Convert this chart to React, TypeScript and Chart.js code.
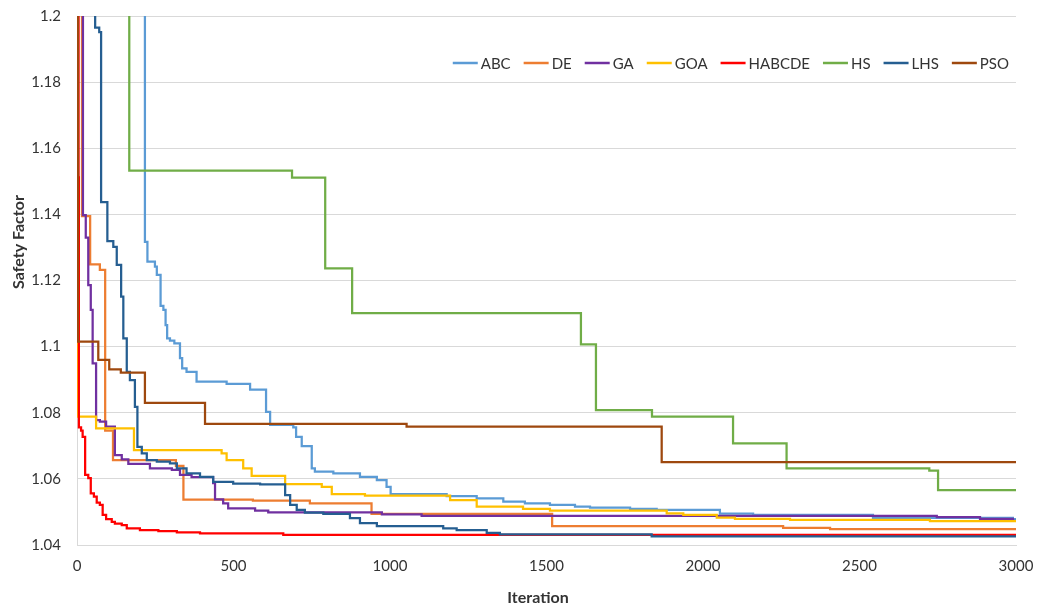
import React, { useEffect, useRef } from "react";
import { Chart, registerables } from "chart.js";

Chart.register(...registerables);

const seriesNames = ["ABC", "DE", "GA", "GOA", "HABCDE", "HS", "LHS", "PSO"];
const seriesColors = ["#5B9BD5", "#ED7D31", "#7030A0", "#FFC000", "#FF0000", "#70AD47", "#255E91", "#9E480E"];

const xTickValues = [0, 500, 1000, 1500, 2000, 2500, 3000];
const yTickValues = [1.04, 1.06, 1.08, 1.1, 1.12, 1.14, 1.16, 1.18, 1.2];

const abcIter = [0, 217, 225, 249, 255, 267, 276, 283, 288, 297, 311, 329, 336, 350, 382, 478, 553, 604, 617, 691, 700, 718, 750, 760, 819, 904, 958, 989, 1002, 1181, 1277, 1362, 1431, 1511, 1591, 1639, 1767, 1852, 2054, 2160, 2543, 2990, 3000];
const abcValue = [1.3, 1.1317, 1.1257, 1.1242, 1.1217, 1.1123, 1.1111, 1.1065, 1.1025, 1.1018, 1.101, 1.0965, 1.0934, 1.0924, 1.0894, 1.0887, 1.087, 1.0803, 1.0763, 1.0756, 1.0727, 1.0699, 1.0632, 1.0622, 1.0617, 1.0606, 1.0596, 1.0576, 1.0554, 1.0548, 1.0541, 1.0531, 1.0526, 1.0521, 1.0516, 1.0513, 1.0509, 1.0506, 1.0495, 1.0491, 1.0482, 1.0478, 1.0478];

const deIter = [0, 16, 42, 73, 90, 115, 316, 340, 562, 744, 941, 1518, 2256, 2406, 3000];
const deValue = [1.25, 1.1395, 1.1249, 1.1232, 1.0746, 1.0657, 1.0639, 1.0537, 1.0534, 1.0526, 1.0494, 1.0457, 1.0452, 1.0448, 1.0448];

const gaIter = [0, 19, 28, 36, 44, 50, 61, 73, 93, 121, 143, 164, 233, 303, 329, 366, 435, 441, 467, 483, 569, 611, 974, 1101, 2747, 2885, 2990, 3000];
const gaValue = [1.25, 1.1398, 1.133, 1.1186, 1.1111, 1.0949, 1.0778, 1.0773, 1.0758, 1.0672, 1.0659, 1.0645, 1.0632, 1.0627, 1.0612, 1.0605, 1.0587, 1.0538, 1.0526, 1.0511, 1.0504, 1.0499, 1.0493, 1.0488, 1.0484, 1.0479, 1.0473, 1.0473];

const goaIter = [0, 2, 61, 182, 462, 478, 531, 558, 665, 782, 814, 920, 1192, 1277, 1425, 1511, 1884, 1937, 2044, 2102, 2278, 2725, 3000];
const goaValue = [1.12, 1.0788, 1.0753, 1.0687, 1.0677, 1.0657, 1.0632, 1.0609, 1.0584, 1.0576, 1.0554, 1.0549, 1.0536, 1.0516, 1.0509, 1.0504, 1.0496, 1.0491, 1.0483, 1.0479, 1.0476, 1.0472, 1.0472];

const habcdeIter = [0, 5, 6, 13, 18, 26, 36, 44, 54, 63, 73, 82, 93, 111, 121, 143, 159, 201, 260, 319, 393, 659, 3000];
const habcdeValue = [1.25, 1.1512, 1.0756, 1.0746, 1.0727, 1.0612, 1.0602, 1.0556, 1.0546, 1.0528, 1.0521, 1.0491, 1.0478, 1.047, 1.0465, 1.046, 1.045, 1.0445, 1.0442, 1.0438, 1.0435, 1.0431, 1.0431];

const hsIter = [0, 167, 687, 793, 879, 1610, 1658, 1837, 2096, 2267, 2723, 2751, 3000];
const hsValue = [1.25, 1.1532, 1.1511, 1.1237, 1.1101, 1.1007, 1.0808, 1.0788, 1.0707, 1.0632, 1.0625, 1.0566, 1.0566];

const lhsIter = [0, 58, 71, 77, 97, 116, 127, 141, 148, 159, 169, 185, 193, 207, 223, 255, 297, 319, 350, 393, 435, 499, 585, 665, 681, 702, 728, 787, 872, 904, 958, 1170, 1213, 1309, 1351, 1836, 3000];
const lhsValue = [1.3, 1.1965, 1.1951, 1.1437, 1.1319, 1.1302, 1.1247, 1.1151, 1.1025, 1.0924, 1.0899, 1.0818, 1.0697, 1.0677, 1.0657, 1.0652, 1.0647, 1.0632, 1.0617, 1.0606, 1.0591, 1.0586, 1.0583, 1.0551, 1.0521, 1.0506, 1.0498, 1.0494, 1.0481, 1.0466, 1.0457, 1.045, 1.0445, 1.0437, 1.0432, 1.0426, 1.0426];

const psoIter = [0, 3, 68, 103, 140, 217, 409, 1053, 1868, 3000];
const psoValue = [1.25, 1.1015, 1.096, 1.0931, 1.0921, 1.083, 1.0766, 1.0758, 1.0651, 1.0651];

const seriesIters = [abcIter, deIter, gaIter, goaIter, habcdeIter, hsIter, lhsIter, psoIter];
const seriesValues = [abcValue, deValue, gaValue, goaValue, habcdeValue, hsValue, lhsValue, psoValue];

const TEXT_COLOR = "#333333";
const FONT_FAMILY = "Lato, 'Open Sans', sans-serif";

const overlayPlugin = {
  id: "overlay",
  afterDraw(chart: any) {
    const ctx = chart.ctx as CanvasRenderingContext2D;
    const area = chart.chartArea;
    ctx.save();
    // legend inside plot area
    ctx.font = `15px ${FONT_FAMILY}`;
    ctx.textBaseline = "middle";
    ctx.textAlign = "left";
    const lineLen = 25;
    const gapText = 3;
    const gapItem = 13;
    const widths = seriesNames.map((n) => ctx.measureText(n).width);
    const total = widths.reduce((s, w) => s + lineLen + gapText + w, 0) + gapItem * (seriesNames.length - 1);
    let x = area.right - 7 - total;
    const y = 63;
    seriesNames.forEach((name, i) => {
      ctx.strokeStyle = seriesColors[i];
      ctx.lineWidth = 2.5;
      ctx.beginPath();
      ctx.moveTo(x, y);
      ctx.lineTo(x + lineLen, y);
      ctx.stroke();
      ctx.fillStyle = TEXT_COLOR;
      ctx.fillText(name, x + lineLen + gapText, y + 1);
      x += lineLen + gapText + widths[i] + gapItem;
    });
    // axis titles
    ctx.font = `bold 16px ${FONT_FAMILY}`;
    ctx.fillStyle = TEXT_COLOR;
    ctx.textAlign = "center";
    ctx.textBaseline = "middle";
    ctx.fillText("Iteration", 538, 598);
    ctx.translate(19, 242);
    ctx.rotate(-Math.PI / 2);
    ctx.fillText("Safety Factor", 0, 0);
    ctx.restore();
  },
};

export default function App() {
  const canvasRef = useRef<HTMLCanvasElement | null>(null);

  useEffect(() => {
    if (!canvasRef.current) return;
    const datasets = seriesNames.map((name, i) => ({
      label: name,
      data: seriesIters[i].map((x, j) => ({ x, y: seriesValues[i][j] })),
      borderColor: seriesColors[i],
      backgroundColor: seriesColors[i],
      borderWidth: 2.25,
      pointRadius: 0,
      stepped: "before" as const,
      fill: false,
      order: seriesNames.length - i,
    }));
    const chart = new Chart(canvasRef.current, {
      type: "line",
      data: { datasets },
      plugins: [overlayPlugin],
      options: {
        animation: false,
        responsive: true,
        maintainAspectRatio: false,
        layout: { padding: { top: 16, right: 21, left: 0, bottom: 0 } },
        plugins: { legend: { display: false }, tooltip: { enabled: false } },
        scales: {
          x: {
            type: "linear",
            min: 0,
            max: 3000,
            afterBuildTicks: (scale: any) => {
              scale.ticks = xTickValues.map((v) => ({ value: v }));
            },
            afterFit: (scale: any) => {
              scale.height = 67;
              scale.paddingLeft = 0;
              scale.paddingRight = 0;
            },
            grid: { display: false, drawTicks: false },
            border: { display: true, color: "#D9D9D9", width: 1 },
            ticks: {
              padding: 12,
              color: TEXT_COLOR,
              font: { family: FONT_FAMILY, size: 15 },
              maxRotation: 0,
              callback: (v: any) => String(v),
            },
          },
          y: {
            type: "linear",
            min: 1.04,
            max: 1.2,
            afterBuildTicks: (scale: any) => {
              scale.ticks = yTickValues.map((v) => ({ value: v }));
            },
            afterFit: (scale: any) => {
              scale.width = 77;
              scale.paddingTop = 0;
              scale.paddingBottom = 0;
            },
            grid: { color: "#D9D9D9", lineWidth: 1, drawTicks: false },
            border: { display: true, color: "#D9D9D9", width: 1 },
            ticks: {
              padding: 16,
              color: TEXT_COLOR,
              font: { family: FONT_FAMILY, size: 15 },
              callback: (v: any) => String(Math.round(Number(v) * 100) / 100),
            },
          },
        },
      },
    });
    return () => chart.destroy();
  }, []);

  return (
    <div style={{ position: "fixed", left: 0, top: 0, width: 1037, height: 612, background: "#fff" }}>
      <canvas ref={canvasRef} />
    </div>
  );
}
